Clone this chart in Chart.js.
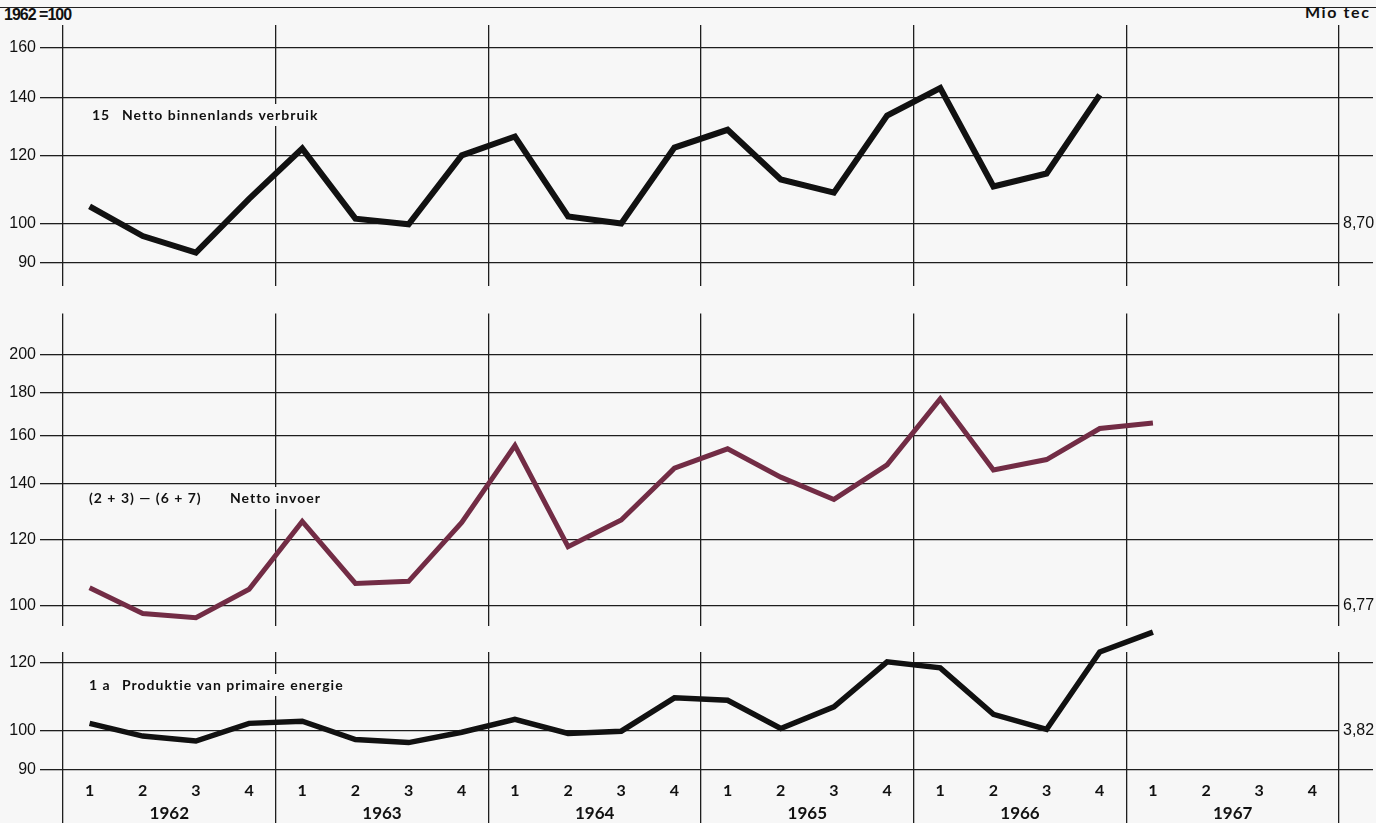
<!DOCTYPE html>
<html>
<head>
<meta charset="utf-8">
<script src="https://cdn.jsdelivr.net/npm/chart.js@4.4.0/dist/chart.umd.min.js"></script>
<style>
html, body { margin: 0; padding: 0; background: #f7f7f7; }
#wrap { position: relative; width: 1376px; height: 823px; overflow: hidden; }
canvas { position: absolute; left: 0; }
.topline { position: absolute; left: 0; top: 7px; width: 1376px; border-top: 1.5px solid #222; }
.base { position: absolute; left: 4px; top: 6px; font: bold 16px 'Liberation Sans', sans-serif; letter-spacing: -1px; color: #111; }
.unit { position: absolute; left: 1305px; top: 2px; font: bold 16px Lato, sans-serif; letter-spacing: 1.6px; color: #111; }
</style>
</head>
<body>
<div id="wrap">
  <div class="topline"></div>
  <div class="base">1962 =100</div>
  <div class="unit">Mio tec</div>
  <canvas id="panelTop" width="1376" height="300" style="top:0px"></canvas>
  <canvas id="panelMid" width="1376" height="340" style="top:300px"></canvas>
  <canvas id="panelBot" width="1376" height="198" style="top:625px"></canvas>
</div>
<script>
// ---- data (index 1962 = 100, quarterly) ----
const quarterLabels = ['1', '2', '3', '4', '1', '2', '3', '4', '1', '2', '3', '4',
                       '1', '2', '3', '4', '1', '2', '3', '4', '1', '2', '3', '4'];
const yearLabels = ['1962', '1963', '1964', '1965', '1966', '1967'];

// 15 Netto binnenlands verbruik
const verbruik = [104.7, 96.7, 92.5, 106.8, 122.2, 101.3, 99.8, 120.0,
                  126.2, 101.9, 100.0, 122.5, 128.5, 112.5, 108.6, 133.5,
                  143.7, 110.4, 114.3, 141.1, null, null, null, null];
// (2 + 3) - (6 + 7) Netto invoer
const invoer = [105.0, 97.8, 96.7, 104.6, 126.1, 106.3, 106.9, 125.8,
                155.5, 117.6, 126.6, 146.1, 154.1, 142.5, 134.0, 147.4,
                176.9, 145.4, 149.6, 163.0, 165.5, null, null, null];
// 1 a Produktie van primaire energie
const produktie = [101.9, 98.5, 97.2, 101.9, 102.5, 97.6, 96.8, 99.5,
                   103.0, 99.2, 99.8, 109.1, 108.4, 100.5, 106.5, 120.1,
                   118.2, 104.4, 100.3, 123.3, 130.0, null, null, null];

const ticksTop = [90, 100, 120, 140, 160];
const ticksMid = [100, 120, 140, 160, 180, 200];
const ticksBot = [90, 100, 120];

// absolute level of 100 in Mio tec
const baseTop = '8,70';
const baseMid = '6,77';
const baseBot = '3,82';

const BG = '#f7f7f7';
const GRID = '#1e1e1e';
const NONE = 'rgba(0,0,0,0)';

// panel caption, drawn over the grid with a paper-coloured box behind it
const panelNote = {
    id: 'panelNote',
    beforeDatasetsDraw(chart, args, opts) {
        if (!opts.parts) return;
        const ctx = chart.ctx;
        ctx.save();
        ctx.font = opts.font;
        ctx.letterSpacing = '1px';
        ctx.textBaseline = 'middle';
        opts.parts.forEach(p => {
            const w = ctx.measureText(p.text).width;
            ctx.fillStyle = BG;
            ctx.fillRect(p.x - 4, opts.y - 11, w + 8, 22);
            ctx.fillStyle = '#111';
            ctx.fillText(p.text, p.x, opts.y);
        });
        ctx.restore();
    }
};

function makePanel(id, p) {
    const bottom = !!p.bottom;
    const scales = {
        x: {
            type: 'category',
            labels: quarterLabels,
            offset: true,
            border: { display: false },
            grid: {
                offset: true,
                color: c => (c.type !== 'tick' || c.index % 4 === 0) ? GRID : NONE,
                lineWidth: 1.3,
                drawTicks: bottom,
                tickLength: 46
            },
            ticks: {
                display: bottom,
                autoSkip: false,
                maxRotation: 0,
                padding: -42,
                color: '#111',
                font: { family: 'Lato', weight: 'bold', size: 16 }
            },
            afterFit: s => { s.height = bottom ? 24 : 0; }
        },
        y: {
            type: 'logarithmic',
            position: 'left',
            min: p.min,
            max: p.max,
            border: { display: false },
            grid: { color: GRID, lineWidth: 1.3, tickLength: 23 },
            afterBuildTicks: s => { s.ticks = p.ticks.map(v => ({ value: v })); },
            ticks: {
                padding: 4,
                color: '#111',
                font: { family: 'Liberation Sans', size: 16 },
                callback: v => String(v)
            },
            afterFit: s => { s.width = 63; }
        },
        yr: {
            type: 'logarithmic',
            position: 'right',
            min: p.min,
            max: p.max,
            border: { display: false },
            grid: {
                drawOnChartArea: false,
                color: GRID,
                lineWidth: 1.3,
                tickLength: 34,
                tickColor: c => (c.tick && c.tick.value === 100) ? NONE : GRID
            },
            afterBuildTicks: s => { s.ticks = p.ticks.map(v => ({ value: v })); },
            ticks: {
                padding: -30,
                color: '#111',
                font: { family: 'Liberation Sans', size: 16 },
                callback: v => (v === 100 ? p.base : '')
            },
            afterFit: s => { s.width = 37; }
        }
    };
    if (bottom) {
        scales.years = {
            type: 'category',
            labels: yearLabels,
            position: 'bottom',
            offset: true,
            weight: 1,
            border: { display: false },
            grid: { display: false, drawTicks: false },
            ticks: {
                padding: 2,
                maxRotation: 0,
                color: '#111',
                font: { family: 'Lato', weight: 'bold', size: 17 }
            },
            afterFit: s => { s.height = 22; }
        };
    }

    return new Chart(document.getElementById(id), {
        type: 'line',
        data: {
            labels: quarterLabels,
            datasets: [{
                data: p.data,
                borderColor: p.color,
                borderWidth: p.width,
                borderJoinStyle: 'miter',
                pointRadius: 0,
                tension: 0,
                spanGaps: false,
                clip: false
            }]
        },
        options: {
            responsive: false,
            animation: false,
            layout: { padding: p.padding },
            plugins: {
                legend: { display: false },
                tooltip: { enabled: false },
                panelNote: p.note
            },
            scales: scales
        },
        plugins: [panelNote]
    });
}

makePanel('panelTop', {
    data: verbruik, ticks: ticksTop, base: baseTop,
    min: 84.5, max: 170.1, color: '#111', width: 6,
    padding: { top: 25, bottom: 13, left: 0, right: 0 },
    note: { y: 115, font: 'bold 14px Lato', parts: [
        { x: 92, text: '15' }, { x: 122, text: 'Netto binnenlands verbruik' }] }
});

makePanel('panelMid', {
    data: invoer, ticks: ticksMid, base: baseMid,
    min: 94.4, max: 223.8, color: '#722c45', width: 5,
    padding: { top: 8, bottom: 9, left: 0, right: 0 },
    note: { y: 198, font: 'bold 14px Lato', parts: [
        { x: 89, text: '(2 + 3) \u2014 (6 + 7)' }, { x: 230, text: 'Netto invoer' }] }
});

makePanel('panelBot', {
    data: produktie, ticks: ticksBot, base: baseBot,
    min: 88.3, max: 123.3, color: '#111', width: 5.5,
    bottom: true,
    padding: { top: 27, bottom: 0, left: 0, right: 0 },
    note: { y: 60, font: 'bold 14px Lato', parts: [
        { x: 89, text: '1 a' }, { x: 122, text: 'Produktie van primaire energie' }] }
});
</script>
</body>
</html>
